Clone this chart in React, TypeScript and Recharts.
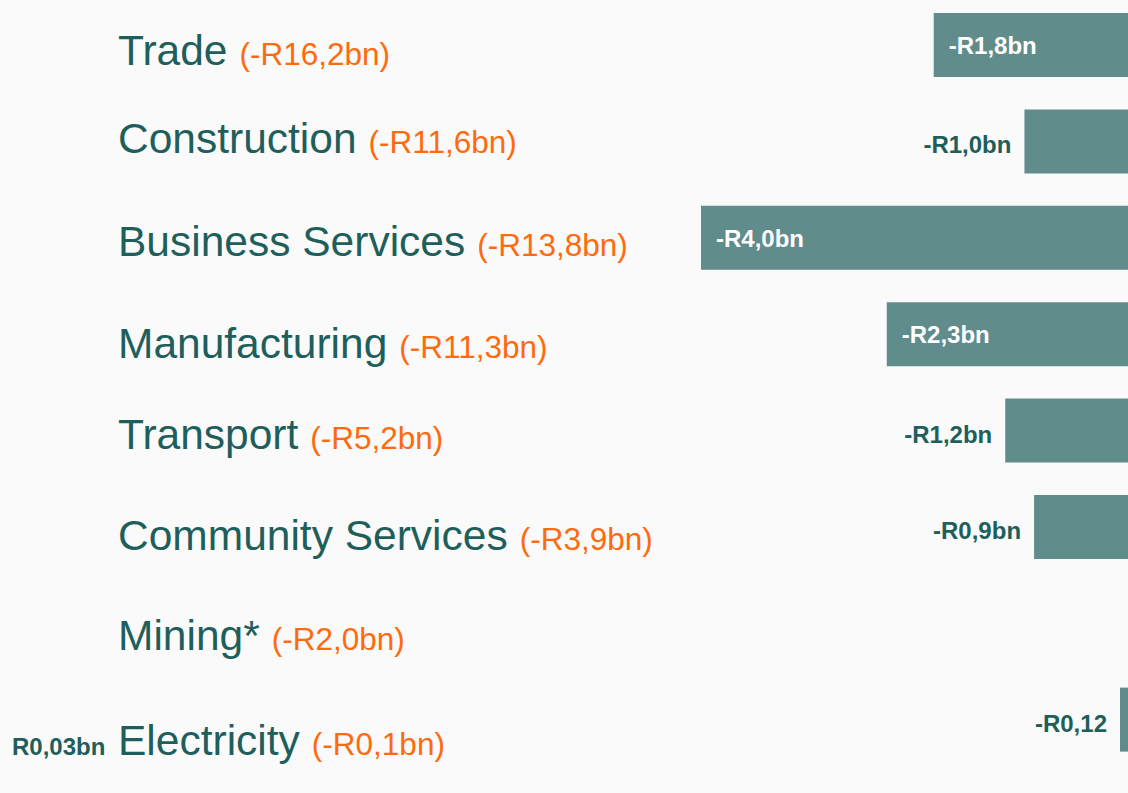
import React from 'react'
import { BarChart, Bar, XAxis, YAxis, LabelList } from 'recharts'

const categories = ['Trade', 'Construction', 'Business Services', 'Manufacturing', 'Transport', 'Community Services', 'Mining*', 'Electricity']
const sectorTotals = ['(-R16,2bn)', '(-R11,6bn)', '(-R13,8bn)', '(-R11,3bn)', '(-R5,2bn)', '(-R3,9bn)', '(-R2,0bn)', '(-R0,1bn)']
const barValues: (number | null)[] = [-1.82, -0.97, -4.0, -2.26, -1.15, -0.88, null, -0.075]
const barLabels = ['-R1,8bn', '-R1,0bn', '-R4,0bn', '-R2,3bn', '-R1,2bn', '-R0,9bn', '', '-R0,12']
const leftNotes = ['', '', '', '', '', '', '', 'R0,03bn']

const TEAL = '#1e5f5c'
const BAR = '#608c8b'
const ORANGE = '#ff6a0d'
const FONT = '"Liberation Sans", Arial, sans-serif'

// baseline shift of each category label from its band centre
const LABEL_DY = [20, 11, 18, 24, 18, 23, 27, 35]

const data = categories.map((name, i) => ({ name, value: barValues[i] }))

function CategoryTick(props: any) {
  const { y, index } = props
  const i = index as number
  const base = y + LABEL_DY[i]
  return (
    <g>
      <text x={118} y={base} fontFamily={FONT}>
        <tspan fontSize={42.5} fill={TEAL}>{categories[i]}</tspan>
        <tspan dx={12} fontSize={31.5} fill={ORANGE}>{sectorTotals[i]}</tspan>
      </text>
      {leftNotes[i] ? (
        <text x={12} y={base} fontFamily={FONT} fontSize={24} fontWeight="bold" fill={TEAL}>
          {leftNotes[i]}
        </text>
      ) : null}
    </g>
  )
}

function BarValueLabel(props: any) {
  const { x, y, width, height, value } = props
  const i = categories.indexOf(value)
  if (i < 0 || barValues[i] == null || !barLabels[i]) return null
  const left = Math.min(x, x + width)
  const cy = y + height / 2
  const inside = Math.abs(barValues[i] as number) > 1.5
  if (inside) {
    return (
      <text x={left + 15} y={cy + 9} fontFamily={FONT} fontSize={24} fontWeight="bold" fill="#ffffff">
        {barLabels[i]}
      </text>
    )
  }
  return (
    <text x={left - 13} y={cy + 12} textAnchor="end" fontFamily={FONT} fontSize={24} fontWeight="bold" fill={TEAL}>
      {barLabels[i]}
    </text>
  )
}

export default function App() {
  return (
    <div style={{ position: 'absolute', left: 0, top: -3, width: 1128, height: 796, background: '#fafafa' }}>
      <BarChart
        width={1128}
        height={796}
        data={data}
        layout="vertical"
        margin={{ top: 0, right: 0, left: 0, bottom: 25 }}
      >
        <XAxis type="number" domain={[-4, 0]} hide />
        <YAxis
          type="category"
          dataKey="name"
          width={701}
          axisLine={false}
          tickLine={false}
          interval={0}
          tick={(p: any) => <CategoryTick {...p} />}
        />
        <Bar dataKey="value" fill={BAR} barSize={64} isAnimationActive={false}>
          <LabelList dataKey="name" content={(p: any) => <BarValueLabel {...p} />} />
        </Bar>
      </BarChart>
    </div>
  )
}
